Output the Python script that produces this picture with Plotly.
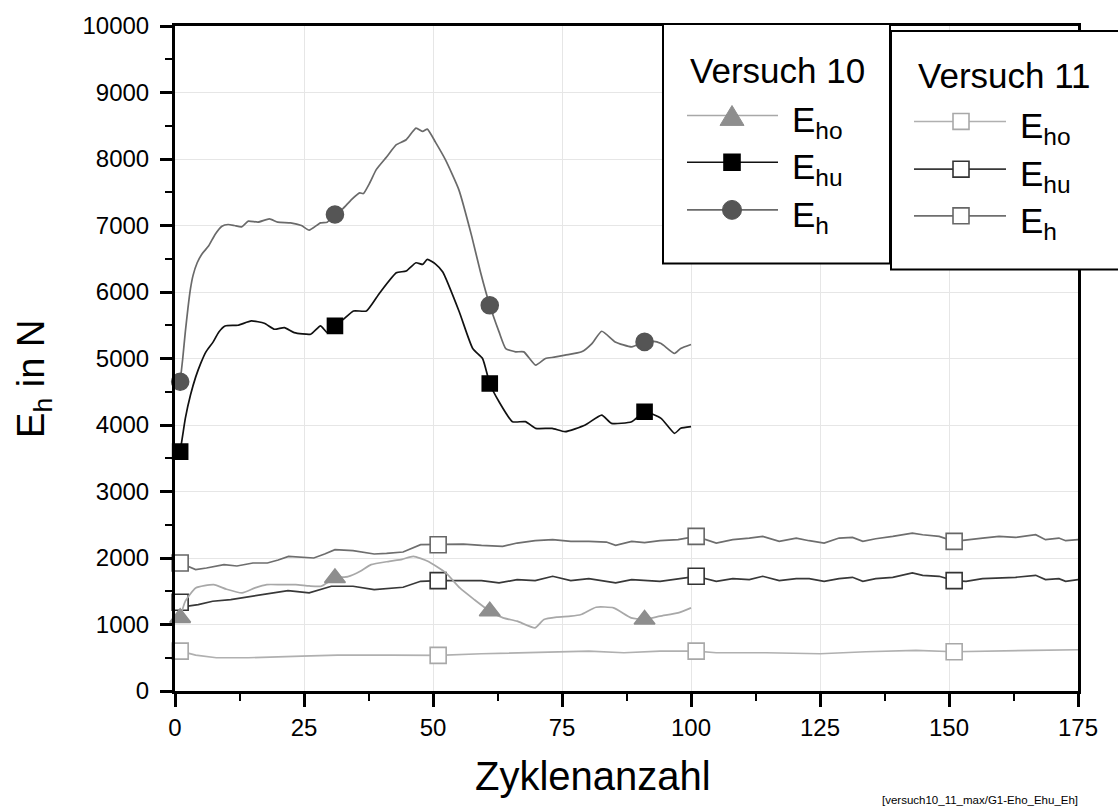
import plotly.graph_objects as go

# ---------------- data ----------------
# Versuch 10 (markers at cycles 1, 31, 61, 91)
v10_marks = [1, 31, 61, 91]
v10_eh_x = [1, 1.5, 2, 2.5, 3, 3.5, 4.3, 5.3, 6.5, 7.8, 9.1, 10.3, 11.5, 12.9, 14.2, 16.1, 18.3, 19.9, 22.4, 24.5,
            26, 28.2, 29.5, 31, 32.5, 34.2, 35.8, 36.5, 37.8, 39, 41, 42.9, 44.8, 46.7, 48, 48.9, 50.5, 52.4, 55,
            57.5, 59.2, 61, 62.8, 64.1, 66, 67.6, 69.9, 71.8, 73.5, 75.6, 78.8, 80.8, 82.7, 85.3, 88.5, 91, 92.5,
            94.2, 96.8, 98, 100]
v10_eh_y = [4650, 5000, 5400, 5750, 6050, 6250, 6440, 6580, 6690, 6870, 6990, 7015, 7000, 6980, 7065, 7050, 7100,
            7050, 7040, 7000, 6930, 7040, 7050, 7165, 7250, 7390, 7490, 7480, 7650, 7840, 8030, 8215, 8290, 8465,
            8415, 8450, 8250, 7990, 7540, 6840, 6300, 5800, 5400, 5150, 5100, 5100, 4900, 5000, 5020, 5050, 5100,
            5225, 5410, 5250, 5175, 5250, 5260, 5225, 5075, 5150, 5210]

v10_ehu_x = [1, 1.5, 2, 3, 4, 5, 6, 7.4, 8.5, 9.7, 12.2, 14.8, 17.3, 19.3, 21.2, 23.1, 26.3, 28.2, 29.5, 31, 32.8,
             34.6, 37.1, 39.7, 42.9, 44.8, 46.7, 48, 48.9, 50.5, 51.9, 55.1, 57.7, 59.6, 61, 62.8, 65.4, 67.9,
             69.9, 73.1, 75.6, 79.5, 82.7, 84.6, 88.5, 91, 94.2, 96.8, 98, 100]
v10_ehu_y = [3600, 3850, 4100, 4450, 4720, 4930, 5100, 5250, 5400, 5490, 5500, 5565, 5530, 5440, 5465, 5390, 5365,
             5490, 5390, 5490, 5600, 5715, 5715, 5990, 6290, 6315, 6440, 6415, 6490, 6420, 6300, 5700, 5150, 5000,
             4625, 4350, 4050, 4050, 3950, 3950, 3900, 4000, 4150, 4025, 4050, 4200, 4100, 3875, 3950, 3975]

v10_eho_x = [1, 2, 4, 7.5, 10, 13, 15.5, 17.8, 20.5, 23.4, 26, 28.3, 31, 33.5, 35.9, 38, 41.5, 44, 46.2, 49, 52.5,
             55.2, 58, 61, 63.6, 66.3, 69.8, 71.5, 74, 76.7, 78.7, 81.6, 85, 88.4, 91, 94, 97.5, 100]
v10_eho_y = [1100, 1350, 1550, 1600, 1530, 1475, 1550, 1600, 1600, 1600, 1580, 1575, 1700, 1720, 1800, 1900, 1950,
             1980, 2025, 1950, 1775, 1550, 1375, 1200, 1100, 1050, 950, 1075, 1110, 1125, 1150, 1260, 1250, 1100,
             1075, 1125, 1175, 1250]

# Versuch 11 (markers at cycles 1, 51, 101, 151)
v11_marks = [1, 51, 101, 151]
v11_eh_x = [1, 4, 6.1, 9.5, 12, 15.1, 17.9, 20, 22, 24.5, 26.9, 29, 31, 34.5, 38.6, 41, 44.2, 47.6, 51, 55.9, 59.4,
            63.5, 66.3, 69.8, 73.2, 76.7, 80.2, 83.6, 85.4, 88.5, 91, 94, 97.5, 101, 104.9, 108.1, 111.3, 113.9,
            117.1, 120.4, 122.9, 125.8, 128.7, 131.3, 133.3, 135.8, 139.1, 142.9, 144.9, 148.1, 151, 153.3, 156.5,
            159.7, 162.9, 166.8, 168.7, 171.3, 172.6, 175]
v11_eh_y = [1925, 1825, 1850, 1900, 1880, 1925, 1925, 1970, 2025, 2010, 2000, 2060, 2125, 2110, 2060, 2070, 2090,
            2200, 2200, 2210, 2190, 2175, 2225, 2260, 2275, 2250, 2250, 2240, 2190, 2250, 2230, 2260, 2275, 2325,
            2225, 2275, 2300, 2325, 2250, 2300, 2260, 2225, 2300, 2310, 2250, 2290, 2325, 2375, 2350, 2325, 2250,
            2275, 2300, 2325, 2310, 2350, 2275, 2300, 2260, 2275]

v11_ehu_x = [1, 2.5, 4.5, 7.3, 10.8, 14.9, 17.7, 21.9, 26, 30.3, 34.5, 38.6, 44.2, 47.6, 51, 55.9, 59.4, 62.8, 66.3,
             69.8, 73.2, 76.7, 80.2, 85.4, 88.5, 94, 97.5, 101, 104.9, 108.1, 111.3, 113.9, 117.1, 120.4, 122.9,
             125.8, 128.7, 131.3, 133.3, 135.8, 139.1, 142.9, 144.9, 148.1, 151, 153.3, 156.5, 159.7, 162.9, 166.8,
             168.7, 171.3, 172.6, 175]
v11_ehu_y = [1335, 1275, 1300, 1350, 1375, 1425, 1450, 1510, 1475, 1575, 1575, 1525, 1560, 1650, 1660, 1660, 1660,
             1625, 1675, 1660, 1725, 1660, 1690, 1625, 1675, 1650, 1690, 1725, 1650, 1690, 1675, 1725, 1660, 1690,
             1690, 1650, 1690, 1710, 1650, 1690, 1710, 1775, 1740, 1725, 1660, 1650, 1690, 1700, 1710, 1740, 1675,
             1690, 1650, 1675]

v11_eho_x = [1, 4, 8, 14.2, 24.6, 31.5, 41.9, 51, 59.4, 66.3, 73.2, 80.2, 87, 94, 101, 104.9, 114.5, 125, 133.9,
             143.6, 151, 156.5, 166.2, 175]
v11_eho_y = [600, 540, 500, 500, 525, 540, 540, 535, 560, 575, 585, 600, 575, 600, 600, 575, 575, 560, 590, 610,
             590, 600, 610, 620]

x_ticks = [0, 25, 50, 75, 100, 125, 150, 175]
y_ticks = [0, 1000, 2000, 3000, 4000, 5000, 6000, 7000, 8000, 9000, 10000]

FONT = "Liberation Sans, Arial, sans-serif"


def pick(xs, ys, marks):
    px_, py_ = [], []
    for a, b in zip(xs, ys):
        if a in marks:
            px_.append(a)
            py_.append(b)
    return px_, py_


fig = go.Figure()

series = [
    # x, y, marks, line colour, marker symbol, marker fill, marker line, size, smooth
    (v11_eho_x, v11_eho_y, v11_marks, "#b0b0b0", "square", "white", "#a8a8a8", 16, False),
    (v11_ehu_x, v11_ehu_y, v11_marks, "#383838", "square", "white", "#333333", 16, False),
    (v11_eh_x, v11_eh_y, v11_marks, "#6e6e6e", "square", "white", "#666666", 16, False),
    (v10_eho_x, v10_eho_y, v10_marks, "#a8a8a8", "triangle-up", "#8e8e8e", "#8e8e8e", 18, True),
    (v10_ehu_x, v10_ehu_y, v10_marks, "#111111", "square", "#000000", "#000000", 15, True),
    (v10_eh_x, v10_eh_y, v10_marks, "#6a6a6a", "circle", "#555555", "#555555", 17, True),
]

for xs, ys, marks, lc, sym, mf, ml, ms, smooth in series:
    line = dict(color=lc, width=1.7)
    if smooth:
        line.update(shape="spline", smoothing=0.5)
    fig.add_trace(go.Scatter(x=xs, y=ys, mode="lines", line=line, showlegend=False, hoverinfo="skip"))
    mx, my = pick(xs, ys, marks)
    fig.add_trace(go.Scatter(x=mx, y=my, mode="markers",
                             marker=dict(symbol=sym, size=ms, color=mf, line=dict(color=ml, width=1.6)),
                             showlegend=False, cliponaxis=False, hoverinfo="skip"))

# ---------------- layout helpers (pixel -> paper) ----------------
L, R, T, B = 175, 1078, 22, 691


def px(x):
    return (x - L) / (R - L)


def py(y):
    return (B - y) / (B - T)


shapes = []
annotations = []


def box(x0, y0, x1, y1):
    shapes.append(dict(type="rect", xref="paper", yref="paper", x0=px(x0), x1=px(x1), y0=py(y1), y1=py(y0),
                       fillcolor="white", line=dict(color="black", width=2), layer="above"))


def sample_line(x0, x1, y, color):
    shapes.append(dict(type="line", xref="paper", yref="paper", x0=px(x0), x1=px(x1), y0=py(y), y1=py(y),
                       line=dict(color=color, width=1.6), layer="above"))


def sq(cx, cy, s, fill, line):
    shapes.append(dict(type="rect", xref="paper", yref="paper", x0=px(cx - s / 2), x1=px(cx + s / 2),
                       y0=py(cy + s / 2), y1=py(cy - s / 2), fillcolor=fill,
                       line=dict(color=line, width=1.6), layer="above"))


def circ(cx, cy, d, fill):
    shapes.append(dict(type="circle", xref="paper", yref="paper", x0=px(cx - d / 2), x1=px(cx + d / 2),
                       y0=py(cy + d / 2), y1=py(cy - d / 2), fillcolor=fill,
                       line=dict(color=fill, width=1), layer="above"))


def tri(cx, cy, w, h, fill):
    p = "M {} {} L {} {} L {} {} Z".format(px(cx - w / 2), py(cy + h / 2), px(cx + w / 2), py(cy + h / 2),
                                           px(cx), py(cy - h / 2))
    shapes.append(dict(type="path", xref="paper", yref="paper", path=p, fillcolor=fill,
                       line=dict(color=fill, width=1), layer="above"))


def text(x, y, s, size, xanchor="left"):
    annotations.append(dict(x=px(x), y=py(y), xref="paper", yref="paper", text=s, showarrow=False,
                            xanchor=xanchor, yanchor="middle", font=dict(family=FONT, size=size, color="black")))


# legend box Versuch 10
box(663, 20, 890, 261)
text(777, 67, "Versuch 10", 35, "center")
rows10 = [112, 159, 207]
sample_line(687, 778, rows10[0], "#a8a8a8")
tri(732, rows10[0], 24, 20, "#8e8e8e")
sample_line(687, 778, rows10[1], "#111111")
sq(732, rows10[1], 16, "#000000", "#000000")
sample_line(687, 778, rows10[2], "#6a6a6a")
circ(732, rows10[2], 19, "#555555")
for r, sub in zip(rows10, ["ho", "hu", "h"]):
    text(790, r + 7, "E<sub>" + sub + "</sub>", 35)

# legend box Versuch 11
box(891, 27, 1125, 267)
text(1004, 72, "Versuch 11", 35, "center")
rows11 = [118, 166, 213]
cols11 = [("#b0b0b0", "#a8a8a8"), ("#383838", "#333333"), ("#6e6e6e", "#666666")]
for r, (lc, mc) in zip(rows11, cols11):
    sample_line(914, 1006, r, lc)
    sq(961, r, 16, "white", mc)
for r, sub in zip(rows11, ["ho", "hu", "h"]):
    text(1018, r + 7, "E<sub>" + sub + "</sub>", 35)

# axis titles & source note
annotations.append(dict(x=px(593), y=py(777), xref="paper", yref="paper", text="Zyklenanzahl", showarrow=False,
                        xanchor="center", yanchor="middle", font=dict(family=FONT, size=40, color="black")))
annotations.append(dict(x=px(34), y=py(377), xref="paper", yref="paper", text="E<sub>h</sub> in N",
                        showarrow=False, textangle=-90, xanchor="center", yanchor="middle",
                        font=dict(family=FONT, size=38, color="black")))
annotations.append(dict(x=px(880), y=py(801), xref="paper", yref="paper",
                        text="[versuch10_11_max/G1-Eho_Ehu_Eh]", showarrow=False, xanchor="left",
                        yanchor="middle", font=dict(family=FONT, size=11.5, color="black")))

axis_common = dict(showline=True, linecolor="black", linewidth=3, mirror=True, ticks="outside",
                   tickcolor="black", tickwidth=2.5, showgrid=True, gridcolor="#e6e6e6", gridwidth=1,
                   zeroline=False, tickfont=dict(family=FONT, size=24, color="black"))

fig.update_layout(
    width=1118, height=812,
    margin=dict(l=L, r=1118 - R, t=T, b=812 - B),
    paper_bgcolor="white", plot_bgcolor="white",
    showlegend=False,
    shapes=shapes, annotations=annotations,
    xaxis=dict(range=[0, 175], tickmode="array", tickvals=x_ticks, ticktext=[str(v) for v in x_ticks],
               ticklen=13, ticklabelstandoff=0,
               minor=dict(tickvals=[12.5, 37.5, 62.5, 87.5, 112.5, 137.5, 162.5], ticklen=7, tickwidth=2,
                          tickcolor="black", ticks="outside", showgrid=False),
               **axis_common),
    yaxis=dict(range=[0, 10000], tickmode="array", tickvals=y_ticks, ticktext=[str(v) for v in y_ticks],
               ticklen=12, ticklabelstandoff=6,
               minor=dict(tickvals=[500, 1500, 2500, 3500, 4500, 5500, 6500, 7500, 8500, 9500], ticklen=7,
                          tickwidth=2, tickcolor="black", ticks="outside", showgrid=False),
               **axis_common),
)

fig.write_html("out.html")
